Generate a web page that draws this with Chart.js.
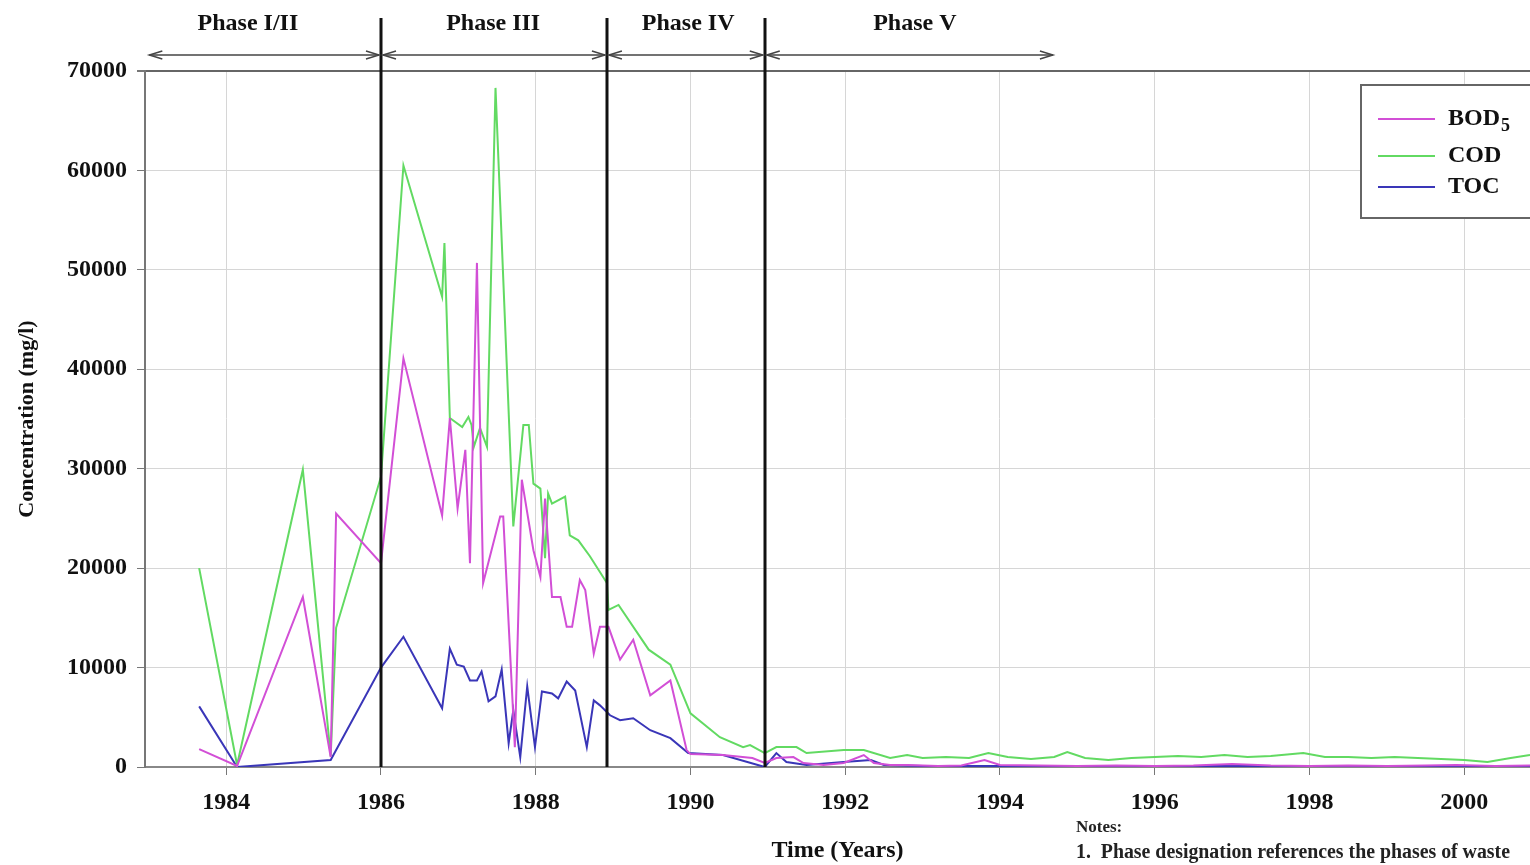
<!DOCTYPE html>
<html>
<head>
<meta charset="utf-8">
<script src="https://cdn.jsdelivr.net/npm/chart.js@4.4.0/dist/chart.umd.min.js"></script>
<style>
    html, body { margin: 0; padding: 0; background: #fff; }
    #wrap { width: 1530px; height: 865px; }
</style>
</head>
<body>
<div id="wrap"><canvas id="chart" width="1530" height="865"></canvas></div>
<script>
// leachate concentrations (mg/l), sampling dates as decimal years
const bodYears = [1983.65, 1984.14, 1984.99, 1985.35, 1985.42, 1986.0, 1986.29, 1986.79, 1986.89, 1986.99,
    1987.09, 1987.15, 1987.24, 1987.32, 1987.54, 1987.58, 1987.73, 1987.82, 1987.97, 1988.06,
    1988.12, 1988.21, 1988.32, 1988.40, 1988.47, 1988.57, 1988.64, 1988.75, 1988.83, 1988.94,
    1989.09, 1989.26, 1989.48, 1989.74, 1989.95, 1990.0, 1990.42, 1990.8, 1990.96, 1991.11,
    1991.33, 1991.46, 1991.72, 1991.98, 1992.24, 1992.37, 1992.58, 1992.8, 1993.2, 1993.5,
    1993.8, 1994.0, 1994.5, 1995.0, 1995.5, 1996.0, 1996.5, 1997.0, 1997.5, 1998.0,
    1998.5, 1999.0, 1999.5, 1999.9, 2000.4, 2000.85];
const bodValues = [1800, 100, 17100, 1000, 25500, 20500, 41100, 25300, 35100, 26000,
    31900, 20500, 50700, 18500, 25200, 25200, 2000, 28900, 21800, 19100,
    27000, 17100, 17100, 14100, 14100, 18800, 17800, 11400, 14100, 14100,
    10800, 12800, 7200, 8700, 1700, 1300, 1200, 900, 400, 900,
    1000, 400, 200, 400, 1200, 400, 200, 200, 100, 150,
    700, 200, 150, 100, 150, 100, 150, 300, 150, 100,
    150, 100, 150, 200, 100, 150];

const codYears = [1983.65, 1984.14, 1984.99, 1985.35, 1985.42, 1986.0, 1986.29, 1986.79, 1986.82, 1986.89,
    1987.05, 1987.13, 1987.17, 1987.20, 1987.28, 1987.37, 1987.48, 1987.71, 1987.84, 1987.91,
    1987.97, 1988.06, 1988.12, 1988.16, 1988.21, 1988.38, 1988.44, 1988.55, 1988.70, 1988.92,
    1988.94, 1989.07, 1989.46, 1989.74, 1990.0, 1990.38, 1990.68, 1990.77, 1990.96, 1991.11,
    1991.37, 1991.50, 1991.98, 1992.24, 1992.58, 1992.8, 1993.0, 1993.3, 1993.6, 1993.85,
    1994.1, 1994.4, 1994.7, 1994.87, 1995.1, 1995.4, 1995.7, 1996.0, 1996.3, 1996.6,
    1996.9, 1997.2, 1997.5, 1997.92, 1998.2, 1998.5, 1998.8, 1999.1, 1999.4, 1999.7,
    2000.0, 2000.3, 2000.6, 2000.85];
const codValues = [20000, 200, 29900, 1100, 14000, 29200, 60500, 47300, 52700, 35100,
    34200, 35200, 34400, 32200, 34100, 32200, 68300, 24200, 34400, 34400,
    28500, 28000, 21000, 27500, 26500, 27200, 23300, 22800, 21200, 18500,
    15800, 16300, 11800, 10300, 5400, 3000, 2000, 2200, 1400, 2000,
    2000, 1400, 1700, 1700, 900, 1200, 900, 1000, 900, 1400,
    1000, 800, 1000, 1500, 900, 700, 900, 1000, 1100, 1000,
    1200, 1000, 1100, 1400, 1000, 1000, 900, 1000, 900, 800,
    700, 500, 900, 1200];

const tocYears = [1983.65, 1984.14, 1985.35, 1986.0, 1986.29, 1986.79, 1986.89, 1986.98, 1987.07, 1987.15,
    1987.24, 1987.30, 1987.39, 1987.48, 1987.56, 1987.65, 1987.71, 1987.80, 1987.89, 1987.99,
    1988.08, 1988.21, 1988.29, 1988.40, 1988.51, 1988.66, 1988.75, 1988.83, 1988.96, 1989.09,
    1989.26, 1989.48, 1989.74, 1989.97, 1990.42, 1990.96, 1991.11, 1991.24, 1991.50, 1991.98,
    1992.33, 1992.50, 1993.0, 1993.5, 1994.0, 1995.0, 1996.0, 1997.0, 1998.0, 1999.0,
    2000.0, 2000.85];
const tocValues = [6100, 0, 700, 10000, 13100, 5900, 11900, 10300, 10100, 8700,
    8700, 9600, 6600, 7100, 9800, 2400, 5700, 1000, 8100, 2000,
    7600, 7400, 6900, 8600, 7700, 2000, 6700, 6200, 5200, 4700,
    4900, 3700, 2900, 1400, 1200, 0, 1400, 500, 200, 500,
    700, 200, 100, 100, 100, 100, 100, 100, 100, 100,
    100, 100];

const yearTicks = [1984, 1986, 1988, 1990, 1992, 1994, 1996, 1998, 2000];

// phase boundaries and where each phase name sits
const phaseBounds = [1982.98, 1986.0, 1988.92, 1990.96, 1994.71];
const phaseNames = ['Phase I/II', 'Phase III', 'Phase IV', 'Phase V'];
const phaseLabelYears = [1984.28, 1987.45, 1989.97, 1992.90];

const BOD_COLOR = '#d24fd6';
const COD_COLOR = '#62da62';
const TOC_COLOR = '#3a36b8';
const SERIF = '"Liberation Serif", "Times New Roman", serif';

function toPoints(xs, ys) {
    return xs.map(function (x, i) { return { x: x, y: ys[i] }; });
}

function arrowHead(ctx, x, y, dir) {
    ctx.beginPath();
    ctx.moveTo(x - dir * 13, y - 4);
    ctx.lineTo(x, y);
    ctx.lineTo(x - dir * 13, y + 4);
    ctx.stroke();
}

const phasePlugin = {
    id: 'phases',
    afterDatasetsDraw(chart) {
        const ctx = chart.ctx;
        const xs = chart.scales.x;
        const bottom = chart.chartArea.bottom;
        ctx.save();
        ctx.strokeStyle = '#111';
        ctx.lineWidth = 3;
        for (let i = 1; i < phaseBounds.length - 1; i++) {
            const px = Math.round(xs.getPixelForValue(phaseBounds[i]));
            ctx.beginPath();
            ctx.moveTo(px, 18);
            ctx.lineTo(px, bottom);
            ctx.stroke();
        }
        ctx.restore();
    },
    afterDraw(chart) {
        const ctx = chart.ctx;
        const xs = chart.scales.x;
        ctx.save();

        // phase spans with arrows
        ctx.strokeStyle = '#444';
        ctx.lineWidth = 1.5;
        const ay = 55;
        for (let i = 0; i < phaseNames.length; i++) {
            const x1 = xs.getPixelForValue(phaseBounds[i]) + 2;
            const x2 = xs.getPixelForValue(phaseBounds[i + 1]) - 2;
            ctx.beginPath();
            ctx.moveTo(x1, ay);
            ctx.lineTo(x2, ay);
            ctx.stroke();
            arrowHead(ctx, x1, ay, -1);
            arrowHead(ctx, x2, ay, 1);
        }

        ctx.fillStyle = '#111';
        ctx.font = 'bold 24px ' + SERIF;
        ctx.textAlign = 'center';
        ctx.textBaseline = 'middle';
        phaseNames.forEach(function (name, i) {
            ctx.fillText(name, xs.getPixelForValue(phaseLabelYears[i]), 24);
        });

        // legend box
        const lx = 1361, ly = 85;
        ctx.fillStyle = '#fff';
        ctx.fillRect(lx, ly, 200, 133);
        ctx.strokeStyle = '#666';
        ctx.lineWidth = 2;
        ctx.strokeRect(lx, ly, 200, 133);
        const rows = [
            { color: BOD_COLOR, text: 'BOD', sub: '5', y: 119 },
            { color: COD_COLOR, text: 'COD', sub: '', y: 156 },
            { color: TOC_COLOR, text: 'TOC', sub: '', y: 187 }
        ];
        ctx.textAlign = 'left';
        rows.forEach(function (r) {
            ctx.strokeStyle = r.color;
            ctx.lineWidth = 2;
            ctx.beginPath();
            ctx.moveTo(1378, r.y);
            ctx.lineTo(1435, r.y);
            ctx.stroke();
            ctx.fillStyle = '#111';
            ctx.font = 'bold 24px ' + SERIF;
            ctx.fillText(r.text, 1448, r.y);
            if (r.sub) {
                const w = ctx.measureText(r.text).width;
                ctx.font = 'bold 18px ' + SERIF;
                ctx.fillText(r.sub, 1448 + w + 1, r.y + 7);
            }
        });

        // notes below the axis
        ctx.fillStyle = '#222';
        ctx.font = 'bold 17px ' + SERIF;
        ctx.fillText('Notes:', 1076, 828);
        ctx.font = 'bold 20px ' + SERIF;
        ctx.fillText('1.  Phase designation references the phases of waste', 1076, 853, 434);
        ctx.restore();
    }
};

const lineStyle = { borderWidth: 2, pointRadius: 0, tension: 0, fill: false };

const chart = new Chart(document.getElementById('chart').getContext('2d'), {
    type: 'line',
    data: {
        datasets: [
            Object.assign({ label: 'BOD5', data: toPoints(bodYears, bodValues), borderColor: BOD_COLOR }, lineStyle),
            Object.assign({ label: 'COD', data: toPoints(codYears, codValues), borderColor: COD_COLOR }, lineStyle),
            Object.assign({ label: 'TOC', data: toPoints(tocYears, tocValues), borderColor: TOC_COLOR }, lineStyle)
        ]
    },
    options: {
        responsive: false,
        animation: false,
        layout: { padding: { top: 71, right: 0, bottom: 0, left: 0 } },
        plugins: {
            legend: { display: false },
            tooltip: { enabled: false }
        },
        scales: {
            x: {
                type: 'linear',
                min: 1982.95,
                max: 2000.85,
                afterBuildTicks(scale) {
                    scale.ticks = yearTicks.map(function (v) { return { value: v }; });
                },
                afterFit(scale) { scale.height = 98; },
                grid: { color: '#d6d6d6', lineWidth: 1, tickLength: 8, tickColor: '#777' },
                border: { color: '#888', width: 2 },
                ticks: {
                    color: '#111',
                    padding: 13,
                    maxRotation: 0,
                    font: { family: SERIF, size: 24, weight: 'bold' },
                    callback: function (v) { return String(v); }
                },
                title: {
                    display: true,
                    text: 'Time (Years)',
                    color: '#111',
                    padding: { top: 0, bottom: 0 },
                    font: { family: SERIF, size: 24, weight: 'bold' }
                }
            },
            y: {
                min: 0,
                max: 70000,
                afterFit(scale) { scale.width = 145; },
                grid: {
                    color: function (c) { return c.tick && c.tick.value === 70000 ? '#666' : '#d6d6d6'; },
                    lineWidth: function (c) { return c.tick && c.tick.value === 70000 ? 2 : 1; },
                    tickLength: 8,
                    tickColor: '#777'
                },
                border: { color: '#777', width: 2 },
                ticks: {
                    stepSize: 10000,
                    color: '#111',
                    padding: 10,
                    font: { family: SERIF, size: 24, weight: 'bold' },
                    callback: function (v) { return String(v); }
                },
                title: {
                    display: true,
                    text: 'Concentration (mg/l)',
                    color: '#111',
                    padding: { top: 14, bottom: 0 },
                    font: { family: SERIF, size: 22, weight: 'bold' }
                }
            }
        }
    },
    plugins: [phasePlugin]
});
</script>
</body>
</html>
